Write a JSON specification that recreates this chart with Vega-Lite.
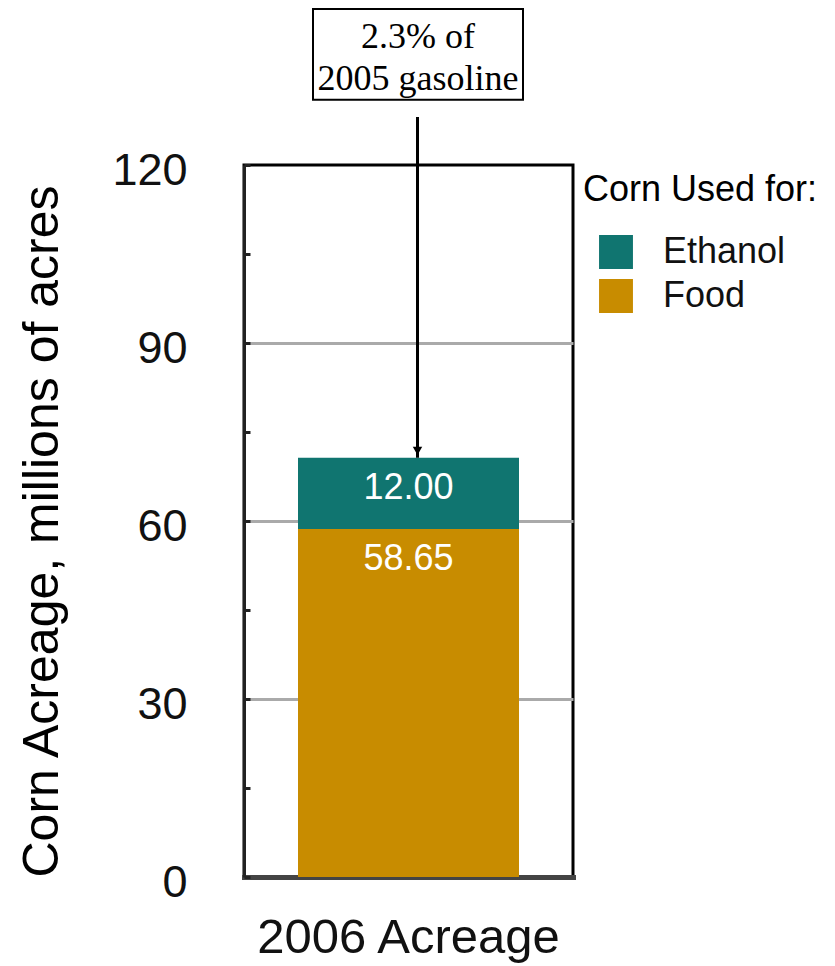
{
  "$schema": "https://vega.github.io/schema/vega-lite/v6.json",
  "width": 329,
  "height": 712,
  "autosize": {"type": "none"},
  "padding": {"left": 244, "top": 165, "right": 262, "bottom": 89},
  "background": "white",
  "config": {
    "font": "Liberation Sans",
    "view": {"stroke": "#000", "strokeWidth": 3}
  },
  "data": {
    "values": [
      {"bar": "2006 Acreage", "use": "Food", "acres": 58.65},
      {"bar": "2006 Acreage", "use": "Ethanol", "acres": 12.0}
    ]
  },
  "transform": [
    {
      "stack": "acres",
      "groupby": ["bar"],
      "sort": [{"field": "use", "order": "descending"}],
      "as": ["lo", "hi"]
    }
  ],
  "encoding": {
    "x": {
      "field": "bar",
      "type": "nominal",
      "axis": {
        "title": null,
        "labelAngle": 0,
        "labelFontSize": 49,
        "labelColor": "#111",
        "labelPadding": 36,
        "labelLimit": 0,
        "ticks": false,
        "domainColor": "#444",
        "domainWidth": 5,
        "domainCap": "square"
      }
    }
  },
  "layer": [
    {
      "mark": {"type": "bar", "width": 221},
      "encoding": {
        "y": {
          "field": "lo",
          "type": "quantitative",
          "scale": {"domain": [0, 120], "nice": false, "zero": true},
          "axis": {
            "title": "Corn Acreage, millions of acres",
            "values": [0, 15, 30, 45, 60, 75, 90, 105, 120],
            "labelExpr": "datum.value % 30 === 0 ? datum.label : ''",
            "labelFontSize": 45,
            "labelColor": "#111",
            "labelPadding": 63,
            "labelOffset": 5,
            "tickSize": -6,
            "tickWidth": 3,
            "tickColor": "#222",
            "domainColor": "#222",
            "domainWidth": 3,
            "grid": true,
            "gridColor": "#aaaaaa",
            "gridWidth": 3,
            "gridOpacity": {
              "condition": {"test": "datum.value % 30 === 0 && datum.value > 0 && datum.value < 120", "value": 1},
              "value": 0
            },
            "titleFontSize": 50,
            "titleFontWeight": "normal",
            "titleColor": "#000",
            "titlePadding": 44,
            "titleY": 366
          }
        },
        "y2": {"field": "hi"},
        "color": {
          "field": "use",
          "type": "nominal",
          "scale": {"domain": ["Ethanol", "Food"], "range": ["#107570", "#C88C00"]},
          "legend": {
            "title": "Corn Used for:",
            "orient": "none",
            "legendX": 339,
            "legendY": 8,
            "titleFontSize": 36,
            "titleFontWeight": "normal",
            "titleColor": "#000",
            "titleLimit": 0,
            "titlePadding": 25,
            "labelFontSize": 36,
            "labelColor": "#111",
            "labelOffset": 29,
            "labelLimit": 0,
            "symbolType": "square",
            "symbolSize": 1150,
            "symbolStrokeWidth": 0,
            "symbolOpacity": 1,
            "symbolOffset": 15,
            "rowPadding": 8
          }
        }
      }
    },
    {
      "mark": {"type": "text", "color": "white", "fontSize": 36, "baseline": "top", "dy": 13},
      "encoding": {
        "y": {"field": "hi", "type": "quantitative"},
        "text": {"field": "acres", "type": "quantitative", "format": ".2f"}
      }
    },
    {
      "transform": [{"filter": "datum.use === 'Ethanol'"}],
      "mark": {"type": "rule", "strokeWidth": 3, "color": "#000", "xOffset": 9},
      "encoding": {
        "y": {"field": "hi", "type": "quantitative"},
        "y2": {"datum": 128.1}
      }
    },
    {
      "transform": [{"filter": "datum.use === 'Ethanol'"}],
      "mark": {"type": "point", "shape": "triangle-down", "filled": true, "color": "#000", "opacity": 1, "size": 90, "xOffset": 9, "yOffset": -7},
      "encoding": {
        "y": {"field": "hi", "type": "quantitative"}
      }
    },
    {
      "transform": [{"filter": "datum.use === 'Ethanol'"}],
      "mark": {"type": "bar", "width": 210, "fill": "white", "stroke": "#000", "strokeWidth": 2, "xOffset": 9.5},
      "encoding": {
        "y": {"datum": 146.3},
        "y2": {"datum": 131.0}
      }
    },
    {
      "transform": [{"filter": "datum.use === 'Ethanol'"}],
      "mark": {"type": "text", "font": "Liberation Serif", "fontSize": 36, "lineHeight": 42, "baseline": "alphabetic", "color": "#000", "xOffset": 9.5},
      "encoding": {
        "y": {"datum": 139.7},
        "text": {"value": ["2.3% of", "2005 gasoline"]}
      }
    }
  ]
}
